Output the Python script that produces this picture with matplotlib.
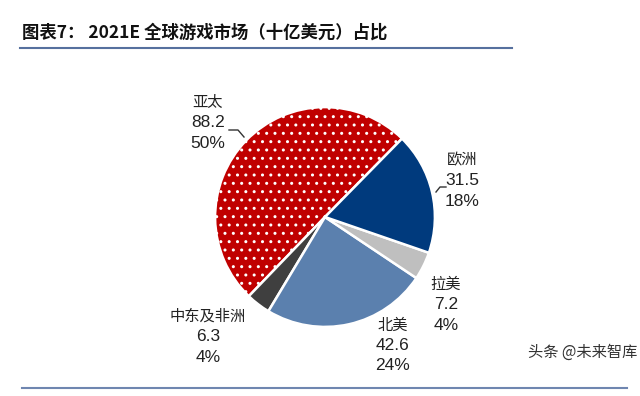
import matplotlib
matplotlib.use("Agg")
import matplotlib.pyplot as plt
from matplotlib.lines import Line2D

plt.rcParams['font.family'] = ['Noto Sans CJK SC', 'DejaVu Sans']
plt.rcParams['hatch.linewidth'] = 1.0

regions = ['亚太', '中东及非洲', '北美', '拉美', '欧洲']
values = [88.2, 6.3, 42.6, 7.2, 31.5]
percents = ['50%', '4%', '24%', '4%', '18%']
colors = ['#C00000', '#3F3F3F', '#5B80AE', '#BFBFBF', '#003A7D']

title = '图表7： 2021E 全球游戏市场（十亿美元）占比'
watermark = '头条 @未来智库'

W, H = 640, 396
fig = plt.figure(figsize=(W / 100, H / 100), dpi=100)

cx, cy, r = 325, 217, 111
ax = fig.add_axes([(cx - r) / W, (H - cy - r) / H, 2 * r / W, 2 * r / H])
wedges, _ = ax.pie(values, colors=colors, startangle=45.5, counterclock=True,
                   radius=1.0,
                   wedgeprops=dict(edgecolor='white', linewidth=1.8))
wedges[0].set_hatch('..')
ax.set_xlim(-1.01, 1.01)
ax.set_ylim(-1.01, 1.01)
ax.axis('off')

def fx(x):
    return x / W

def fy(y):
    return 1 - y / H

label_pos = {
    '亚太': (208, 102),
    '中东及非洲': (208, 316),
    '北美': (393, 325),
    '拉美': (446, 284),
    '欧洲': (462, 160),
}
cjk = ['Noto Sans CJK SC', 'DejaVu Sans']
num = ['Liberation Sans', 'DejaVu Sans']
for name, v, p in zip(regions, values, percents):
    x, y = label_pos[name]
    fig.text(fx(x), fy(y), name, ha='center', va='center', fontsize=11,
             family=cjk, color='#222222')
    fig.text(fx(x), fy(y + 20.5), f'{v:.1f}', ha='center', va='center',
             fontsize=12.5, family=num, color='#222222')
    fig.text(fx(x), fy(y + 41), p, ha='center', va='center',
             fontsize=12.5, family=num, color='#222222')

fig.add_artist(Line2D([fx(229), fx(238), fx(244)], [fy(130), fy(130), fy(137)],
                      color='#333333', lw=1.0, transform=fig.transFigure))
fig.add_artist(Line2D([fx(436), fx(440), fx(446)], [fy(192), fy(187), fy(187)],
                      color='#333333', lw=1.0, transform=fig.transFigure))

fig.text(fx(22), fy(33), title, ha='left', va='center', fontsize=12.5,
         fontweight='bold', family=cjk, color='#111111')
fig.add_artist(Line2D([fx(20), fx(512)], [fy(48), fy(48)], color='#56709E',
                      lw=1.5, transform=fig.transFigure))
fig.add_artist(Line2D([fx(22), fx(627)], [fy(388), fy(388)], color='#6F86B0',
                      lw=1.5, transform=fig.transFigure))
fig.text(fx(583), fy(352), watermark, ha='center', va='center', fontsize=11,
         family=cjk, color='#333333')

fig.savefig('out.png', dpi=100, facecolor='white')
